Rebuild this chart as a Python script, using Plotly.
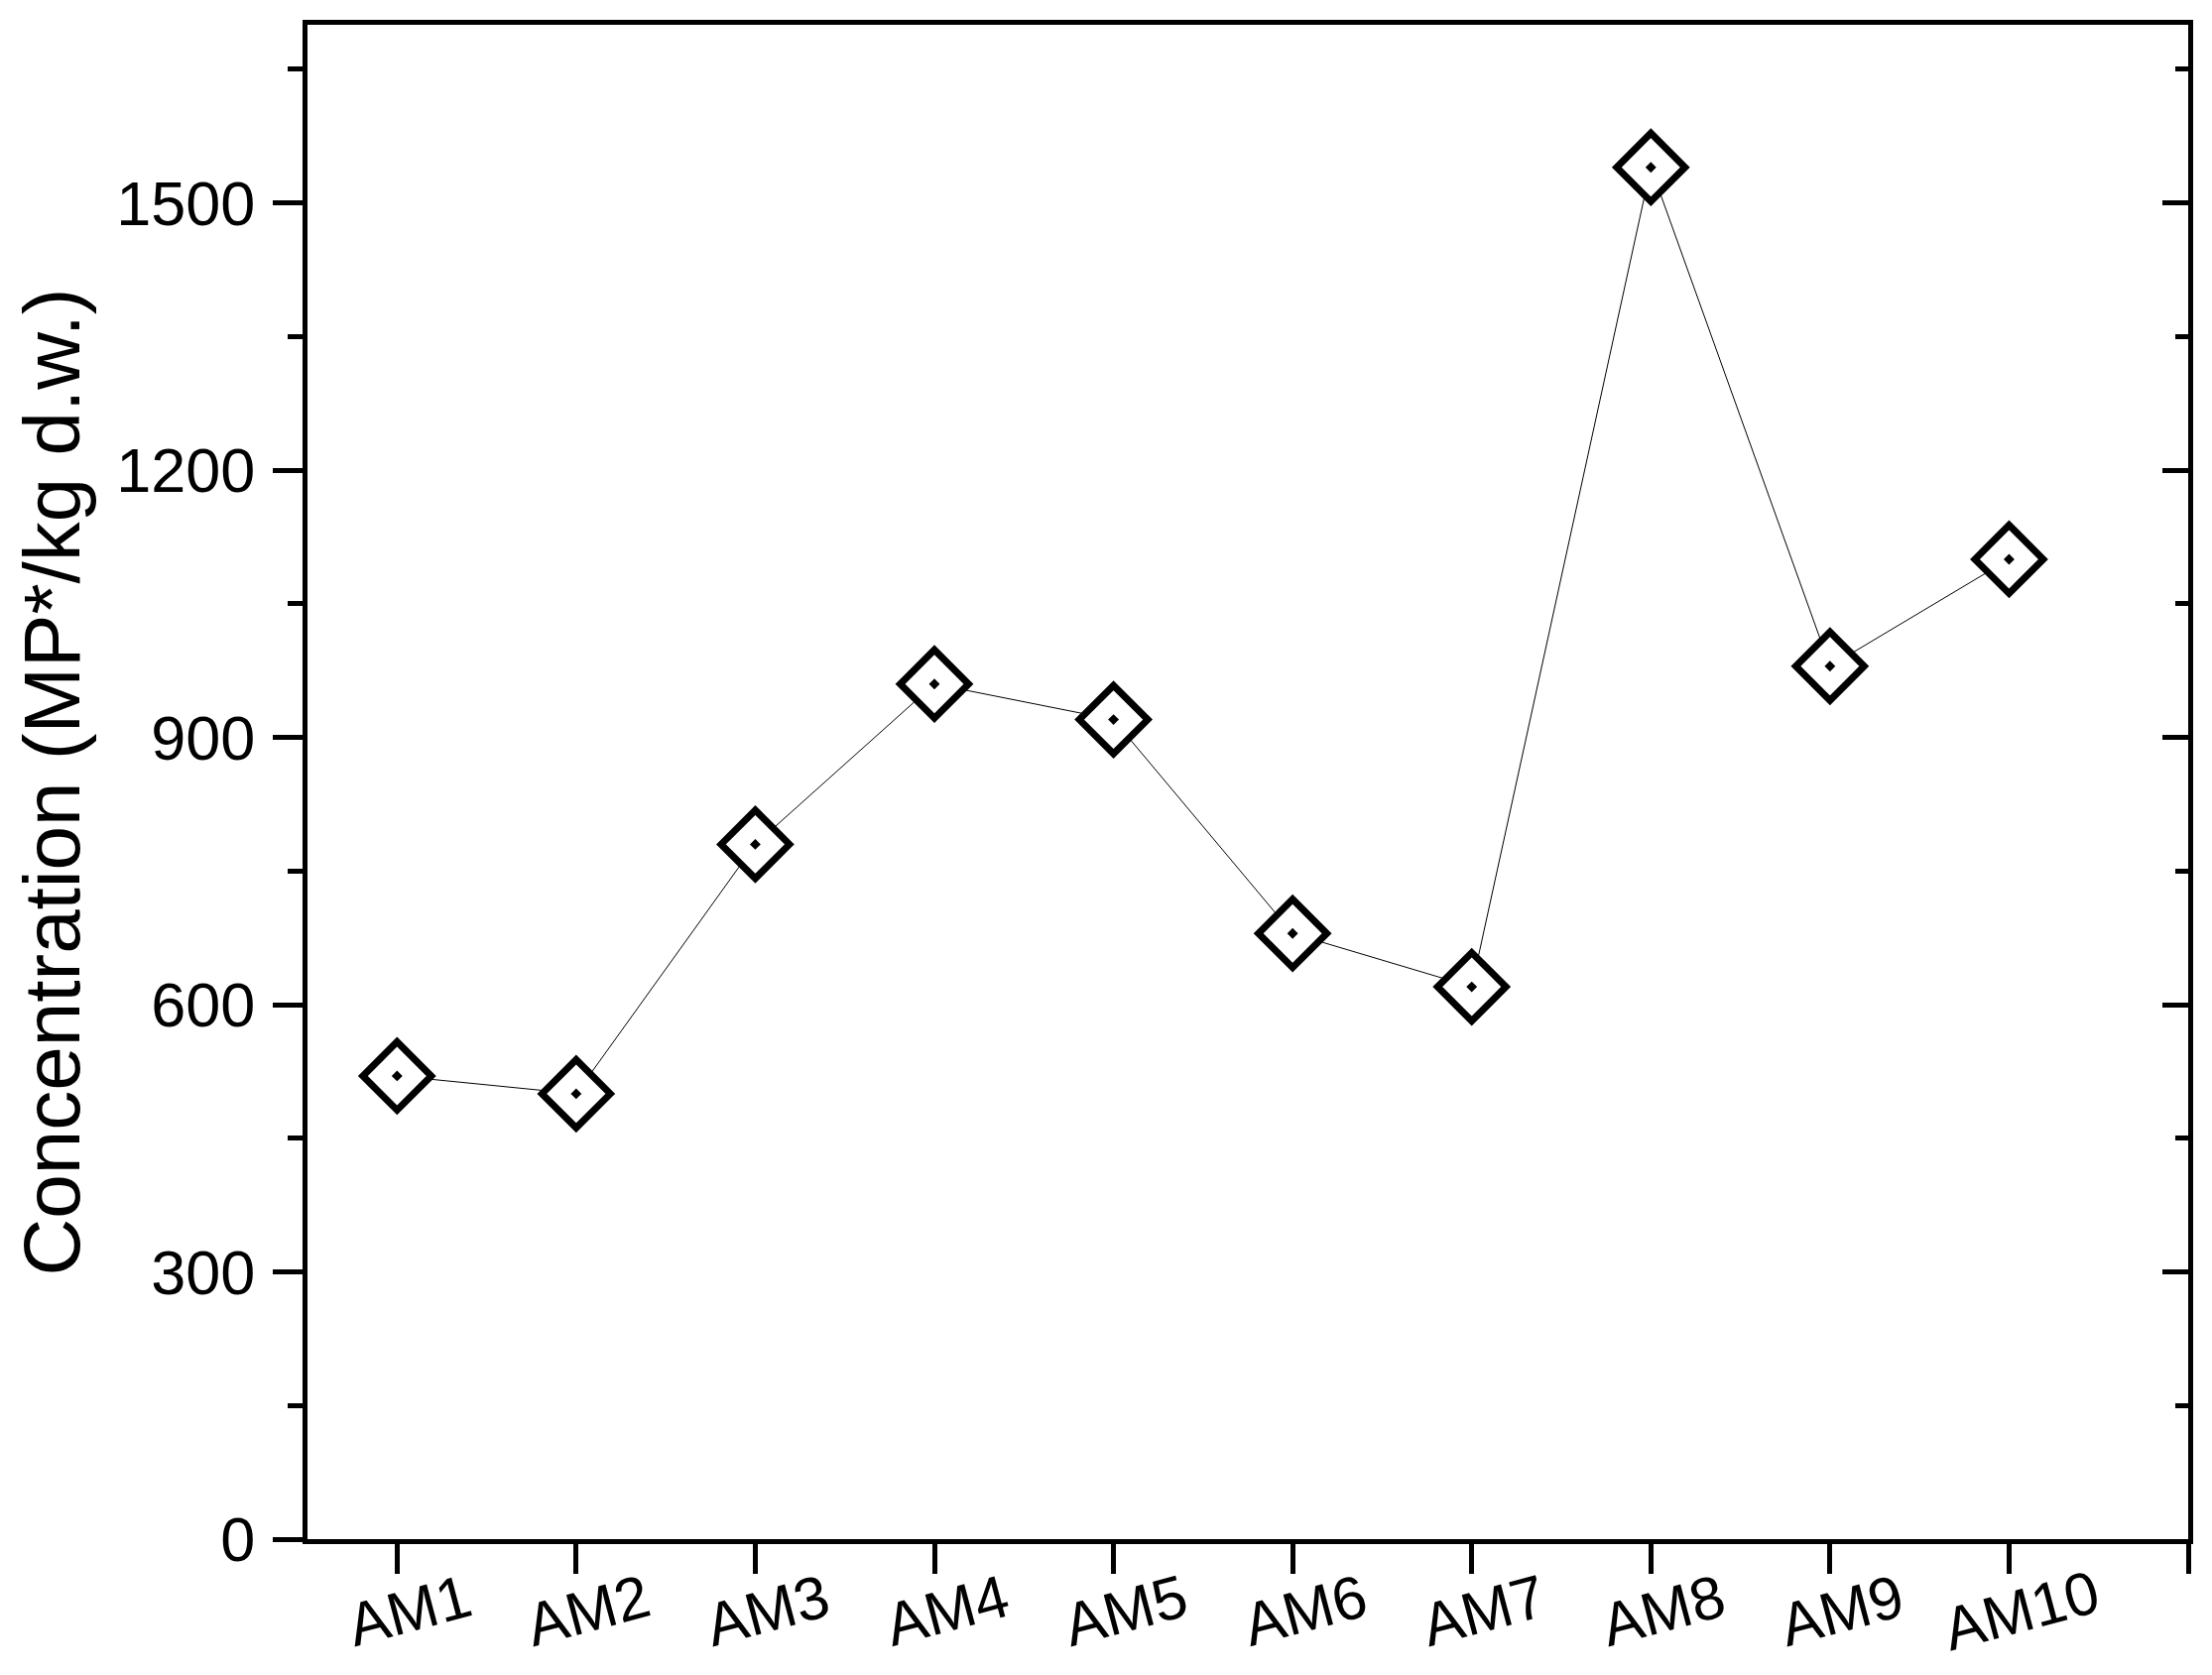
import plotly.graph_objects as go

categories = ["AM1", "AM2", "AM3", "AM4", "AM5", "AM6", "AM7", "AM8", "AM9", "AM10"]
concentration = [520, 500, 780, 960, 920, 680, 620, 1540, 980, 1100]
y_title = "Concentration (MP*/kg d.w.)"
y_tick_vals = [0, 300, 600, 900, 1200, 1500]

positions = list(range(1, len(categories) + 1))
FONT = "Liberation Sans, Arial, sans-serif"

fig = go.Figure()
fig.add_trace(go.Scatter(
    x=positions, y=concentration, mode="lines+markers",
    line=dict(color="black", width=1),
    marker=dict(symbol="diamond-dot", size=53, color="white",
                line=dict(color="black", width=7)),
    showlegend=False, hoverinfo="x+y",
))
# invisible trace to anchor the mirrored right axis
fig.add_trace(go.Scatter(
    x=positions, y=concentration, mode="lines", yaxis="y2",
    line=dict(width=0), opacity=0, showlegend=False, hoverinfo="skip",
))

for i, c in zip(positions, categories):
    fig.add_annotation(
        x=i, y=0, xref="x", yref="paper", text=c, showarrow=False,
        textangle=-15, xanchor="center", yanchor="middle",
        xshift=12, yshift=-72,
        font=dict(family=FONT, size=61, color="black"),
    )

fig.update_layout(
    width=2222, height=1681,
    margin=dict(l=302, r=24, t=15, b=137),
    paper_bgcolor="white", plot_bgcolor="white",
    xaxis=dict(
        range=[0.5, 11], tickvals=positions + [len(categories) + 1],
        showticklabels=False, ticks="outside", ticklen=30, tickwidth=5,
        tickcolor="black", showline=True, linecolor="black", linewidth=5,
        mirror=True, showgrid=False, zeroline=False,
    ),
    yaxis=dict(
        range=[0, 1700], tickvals=y_tick_vals, ticks="outside", ticklen=30,
        tickwidth=5, tickcolor="black", showline=True, linecolor="black",
        linewidth=5, showgrid=False, zeroline=False,
        minor=dict(dtick=150, tick0=0, ticks="outside", ticklen=15,
                   tickwidth=5, tickcolor="black", showgrid=False),
        tickfont=dict(family=FONT, size=63, color="black"),
        ticklabelstandoff=5,
        title=dict(text=y_title, font=dict(family=FONT, size=80, color="black"),
                   standoff=28),
    ),
    yaxis2=dict(
        range=[0, 1700], overlaying="y", side="right", tickvals=y_tick_vals,
        ticks="inside", ticklen=26, tickwidth=5, tickcolor="black",
        showticklabels=False, showline=True, linecolor="black", linewidth=5,
        showgrid=False, zeroline=False,
        minor=dict(dtick=150, tick0=0, ticks="inside", ticklen=13,
                   tickwidth=5, tickcolor="black", showgrid=False),
    ),
)

fig.write_html("out.html")
